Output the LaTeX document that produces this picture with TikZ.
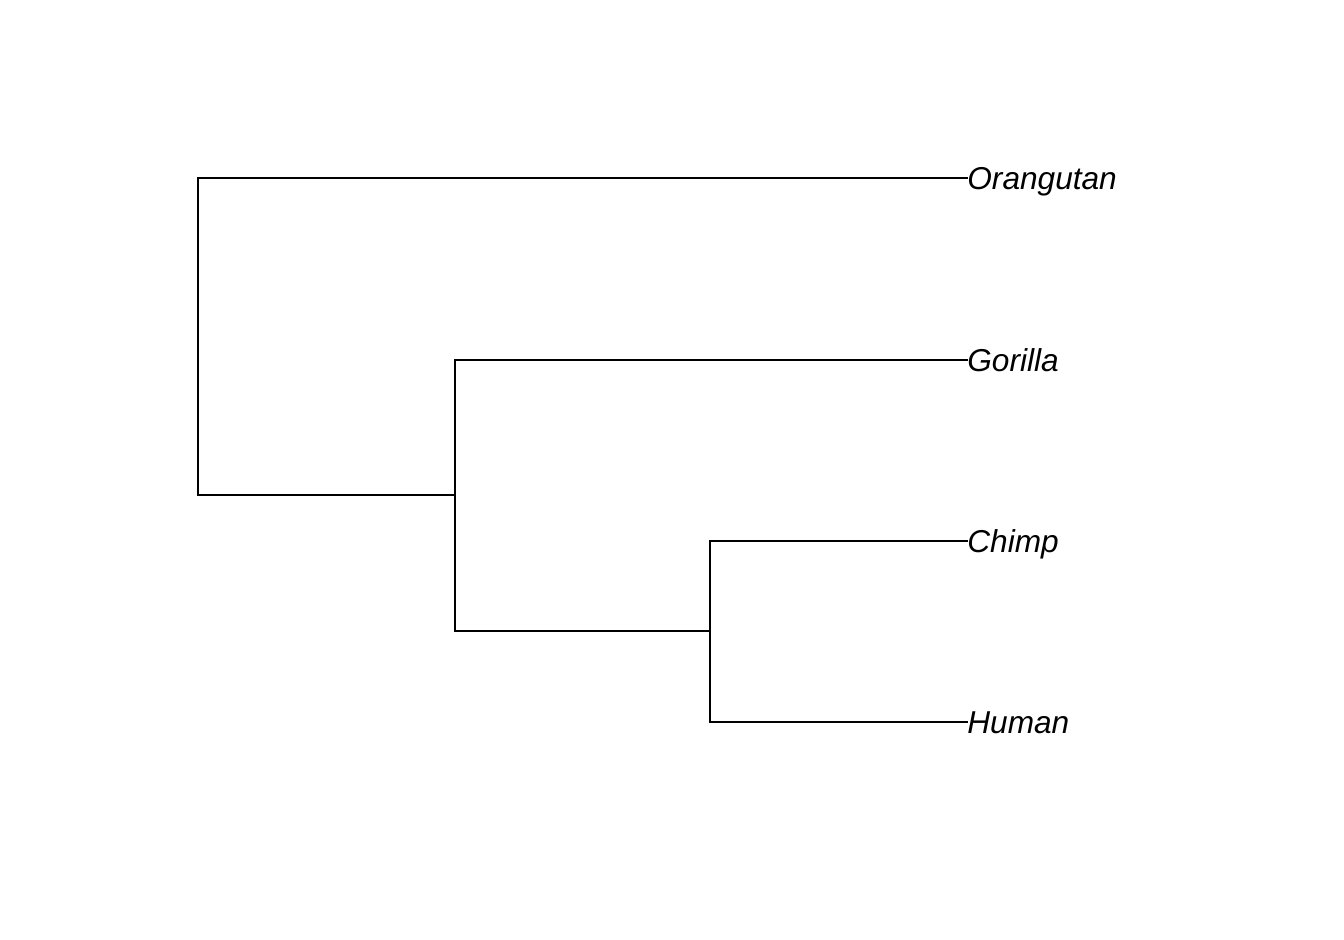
\documentclass[tikz,border=0pt]{standalone}
\usepackage{fontspec}
\setmainfont{Liberation Sans}

\tikzset{
  branch/.style={line width=1.1pt, line cap=rect},
  taxon/.style={anchor=base west, inner sep=0pt, yshift=-0.23cm,
    font=\fontsize{18}{22}\selectfont\itshape}
}

\begin{document}
\begin{tikzpicture}
\useasboundingbox (0,0) rectangle (26.88,18.8);

% Feuilles
\node[taxon] (orang) at (19.34, 15.24) {Orangutan};
\node[taxon] (gor) at (19.34, 11.6) {Gorilla};
\node[taxon] (chimp) at (19.34, 7.98) {Chimp};
\node[taxon] (hum) at (19.34, 4.36) {Human};

% Noeuds internes
\coordinate (root) at (3.96, 8.9);
\coordinate (gc) at (9.1, 6.18);
\coordinate (ch) at (14.2, 6.18);

% Branches
\draw[branch] (orang.base west |- 0,15.24) -- (3.96,15.24) -- (root) -- (9.1,8.9);
\draw[branch] (gor.base west |- 0,11.6) -- (9.1,11.6) -- (gc) -- (ch);
\draw[branch] (chimp.base west |- 0,7.98) -- (14.2,7.98) -- (14.2,4.36) -- (hum.base west |- 0,4.36);

\end{tikzpicture}
\end{document}
